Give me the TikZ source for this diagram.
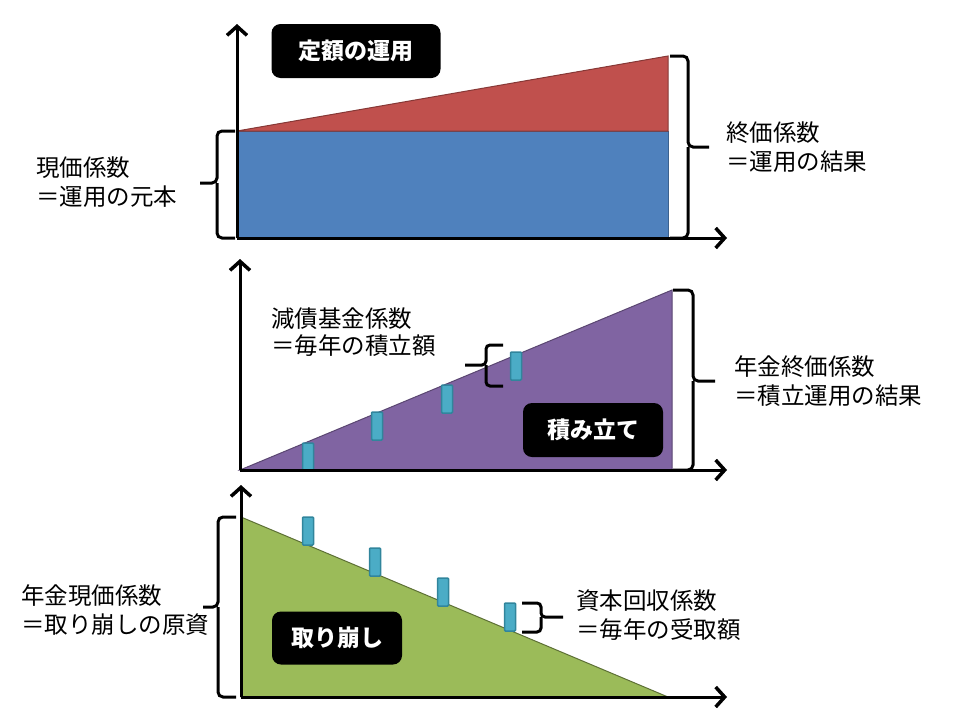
\documentclass[tikz,border=0pt]{standalone}
\usepackage{fontspec}
\setmainfont{Noto Sans CJK JP}
\usetikzlibrary{positioning,calc,arrows.meta}
\definecolor{blueA}{HTML}{4F81BD}
\definecolor{redA}{HTML}{C0504D}
\definecolor{purpleA}{HTML}{8064A2}
\definecolor{greenA}{HTML}{9BBB59}
\definecolor{barA}{HTML}{4BACC6}
\definecolor{barB}{HTML}{31859C}
\tikzset{
  axis/.style={-{Straight Barb[length=9pt, width=20pt, line width=3.5pt]}, line width=3pt},
  curly/.style={line width=3pt, rounded corners=5pt},
  bar/.style={draw=barB, fill=barA, line width=1.5pt, rounded corners=1pt,
    minimum width=11pt, minimum height=28pt, inner sep=0pt},
  tag/.style={fill=black, text=white, rounded corners=9pt, inner sep=0pt,
    font=\fontsize{23}{26}\selectfont\bfseries},
  lbl/.style={anchor=west, align=left, inner sep=0pt,
    font=\fontsize{23.5}{29}\selectfont},
}
\begin{document}
\begin{tikzpicture}[x = 1pt, y = -1pt]
    \useasboundingbox (0,0) rectangle (960,720);
    % top: fixed sum
    \filldraw[fill=blueA, draw=blueA!75!black, line width=1pt] (237,131) rectangle (668,238);
    \filldraw[fill=redA, draw=redA!70!black, line width=1pt] (237,131) -- (668,56) -- (668,131) -- cycle;
    \coordinate (o1) at (237,238);
    \coordinate (y1) at (237,24);
    \coordinate (x1) at (727,238);
    \draw[axis] (o1) -- (y1);
    \draw[axis] (o1) -- (x1);
    \node[tag, minimum width=169pt, minimum height=54pt] (t1) at (356,51) {定額の運用};
    \node[lbl] (pv) at (36,182) {現価係数\\＝運用の元本};
    \node[lbl] (fv) at (726,147) {終価係数\\＝運用の結果};
    \draw[curly] (235,131) -| (217,183) -- (200,183);
    \draw[curly] (217,183) |- (235,238);
    \draw[curly] (670,56) -| (688,147) -- (709,147);
    \draw[curly] (688,147) |- (670,238);

    % middle: saving up
    \filldraw[fill=purpleA, draw=purpleA!70!black, line width=1pt] (240,470) -- (672,290) -- (672,470) -- cycle;
    \node[bar] (s1) at (308,457) {};
    \node[bar] (s2) at (377,426) {};
    \node[bar] (s3) at (447,399) {};
    \node[bar] (s4) at (516,366) {};
    \coordinate (o2) at (240,470);
    \coordinate (y2) at (240,259);
    \coordinate (x2) at (727,470);
    \draw[axis] (o2) -- (y2);
    \draw[axis] (o2) -- (x2);
    \node[tag, minimum width=140pt, minimum height=54pt] (t2) at (593,430) {積み立て};
    \node[lbl, font=\fontsize{23.5}{27}\selectfont] (sf) at (271,332) {減債基金係数\\＝毎年の積立額};
    \node[lbl] (afv) at (734,381) {年金終価係数\\＝積立運用の結果};
    \draw[curly, rounded corners=4pt] (503,345) -| (486,365) -- (465,365);
    \draw[curly, rounded corners=4pt] (486,365) |- (503,386);
    \draw[curly] (673,290) -| (693,381) -- (715,381);
    \draw[curly] (693,381) |- (673,470);

    % bottom: drawing down
    \filldraw[fill=greenA, draw=greenA!60!black, line width=1pt] (241,517) -- (668,697) -- (241,697) -- cycle;
    \node[bar] (w1) at (308,531) {};
    \node[bar] (w2) at (375,562) {};
    \node[bar] (w3) at (443,592) {};
    \node[bar] (w4) at (510,617) {};
    \coordinate (o3) at (241,697);
    \coordinate (y3) at (241,485);
    \coordinate (x3) at (727,697);
    \draw[axis] (o3) -- (y3);
    \draw[axis] (o3) -- (x3);
    \node[tag, minimum width=130pt, minimum height=53pt] (t3) at (337,638) {取り崩し};
    \node[lbl] (apv) at (21,610) {年金現価係数\\＝取り崩しの原資};
    \node[lbl] (crf) at (576,615) {資本回収係数\\＝毎年の受取額};
    \draw[curly] (236,517) -| (218,607) -- (203,607);
    \draw[curly] (218,607) |- (236,697);
    \draw[curly, rounded corners=4pt] (522,603) -| (541,617) -- (563,617);
    \draw[curly, rounded corners=4pt] (541,617) |- (522,632);
  \end{tikzpicture}
\end{document}
